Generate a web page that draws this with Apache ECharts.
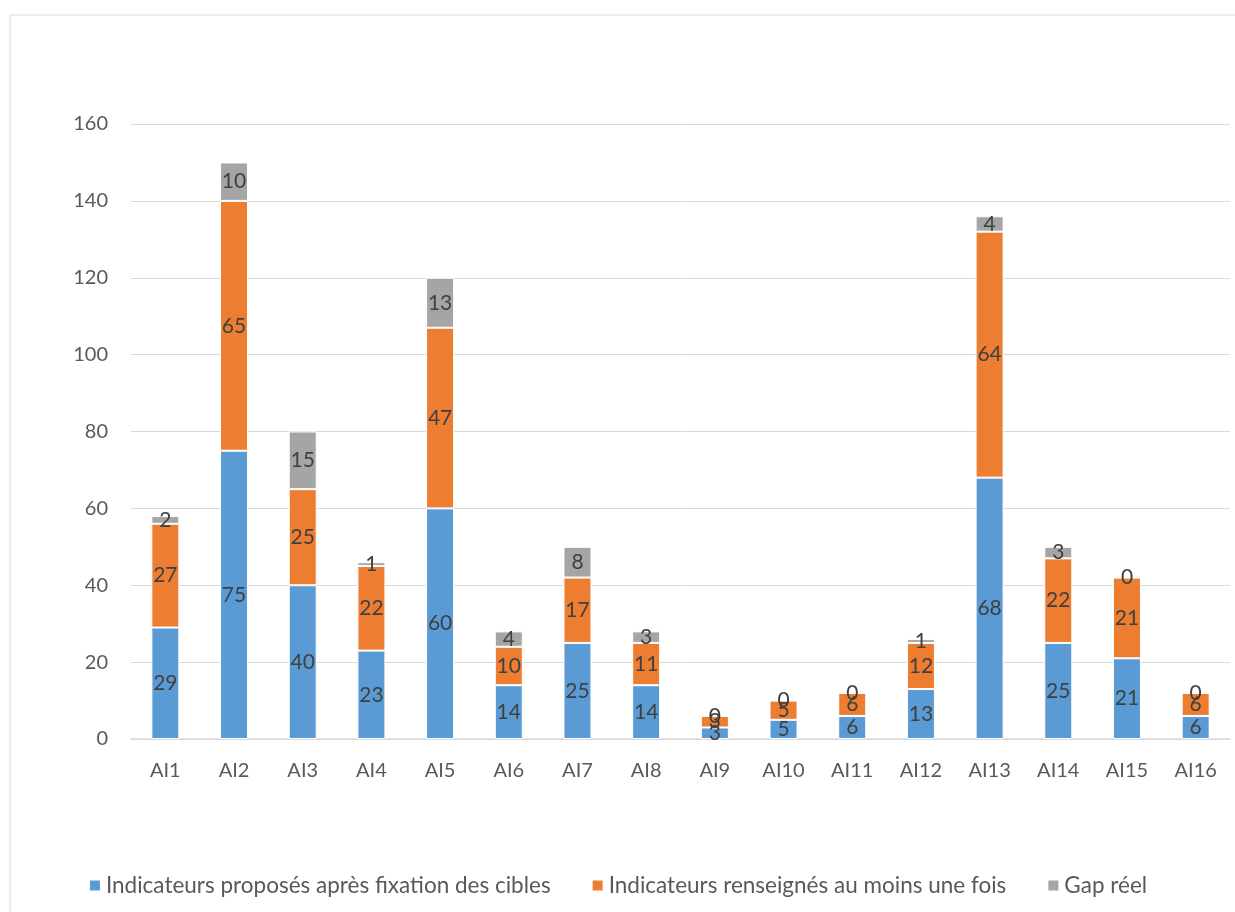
<!DOCTYPE html>
<html><head><meta charset="utf-8">
<script src="https://cdn.jsdelivr.net/npm/echarts@6/dist/echarts.min.js"></script>
<style>html,body{margin:0;padding:0;background:#fff}#c{width:1235px;height:912px}</style>
</head><body><div id="c"></div>
<script>
const categories = ['AI1','AI2','AI3','AI4','AI5','AI6','AI7','AI8','AI9','AI10','AI11','AI12','AI13','AI14','AI15','AI16'];
const proposes = [29,75,40,23,60,14,25,14,3,5,6,13,68,25,21,6];
const renseignes = [27,65,25,22,47,10,17,11,3,5,6,12,64,22,21,6];
const gap = [2,10,15,1,13,4,8,3,0,0,0,1,4,3,0,0];
const seriesNames = ['Indicateurs proposés après fixation des cibles','Indicateurs renseignés au moins une fois','Gap réel'];
const colors = ['#5b9bd5','#ed7d31','#a5a5a5'];
const FONT = 'Lato, "Liberation Sans", sans-serif';
const chart = echarts.init(document.getElementById('c'));
function mk(name, data, color){
  return {name, type:'bar', stack:'s', data, barWidth:28,
    itemStyle:{color, borderColor:'#fff', borderWidth:1},
    label:{show:true, position:'inside', color:'#404040', fontSize:21, fontFamily:FONT},
    emphasis:{disabled:true}};
}
chart.setOption({
  animation:false,
  color:colors,
  graphic:[{type:'rect', shape:{x:10, y:15, width:1240, height:920}, style:{fill:'none', stroke:'#d9d9d9', lineWidth:1}}],
  grid:{left:131, right:5, top:124, bottom:173},
  legend:{top:869, left:'center', itemWidth:12, itemHeight:12, itemGap:40, icon:'rect',
    textStyle:{color:'#595959', fontSize:22.5, fontFamily:FONT}, data:seriesNames},
  xAxis:{type:'category', data:categories,
    axisLine:{lineStyle:{color:'#d9d9d9', width:1.5}}, axisTick:{show:false},
    axisLabel:{color:'#595959', fontSize:20, fontFamily:FONT, margin:22}},
  yAxis:{type:'value', min:0, max:160, interval:20,
    axisLine:{show:false}, axisTick:{show:false},
    splitLine:{lineStyle:{color:'#d9d9d9', width:1}},
    axisLabel:{color:'#595959', fontSize:20, fontFamily:FONT, margin:23}},
  series:[mk(seriesNames[0], proposes, colors[0]), mk(seriesNames[1], renseignes, colors[1]), mk(seriesNames[2], gap, colors[2])]
});
</script></body></html>
